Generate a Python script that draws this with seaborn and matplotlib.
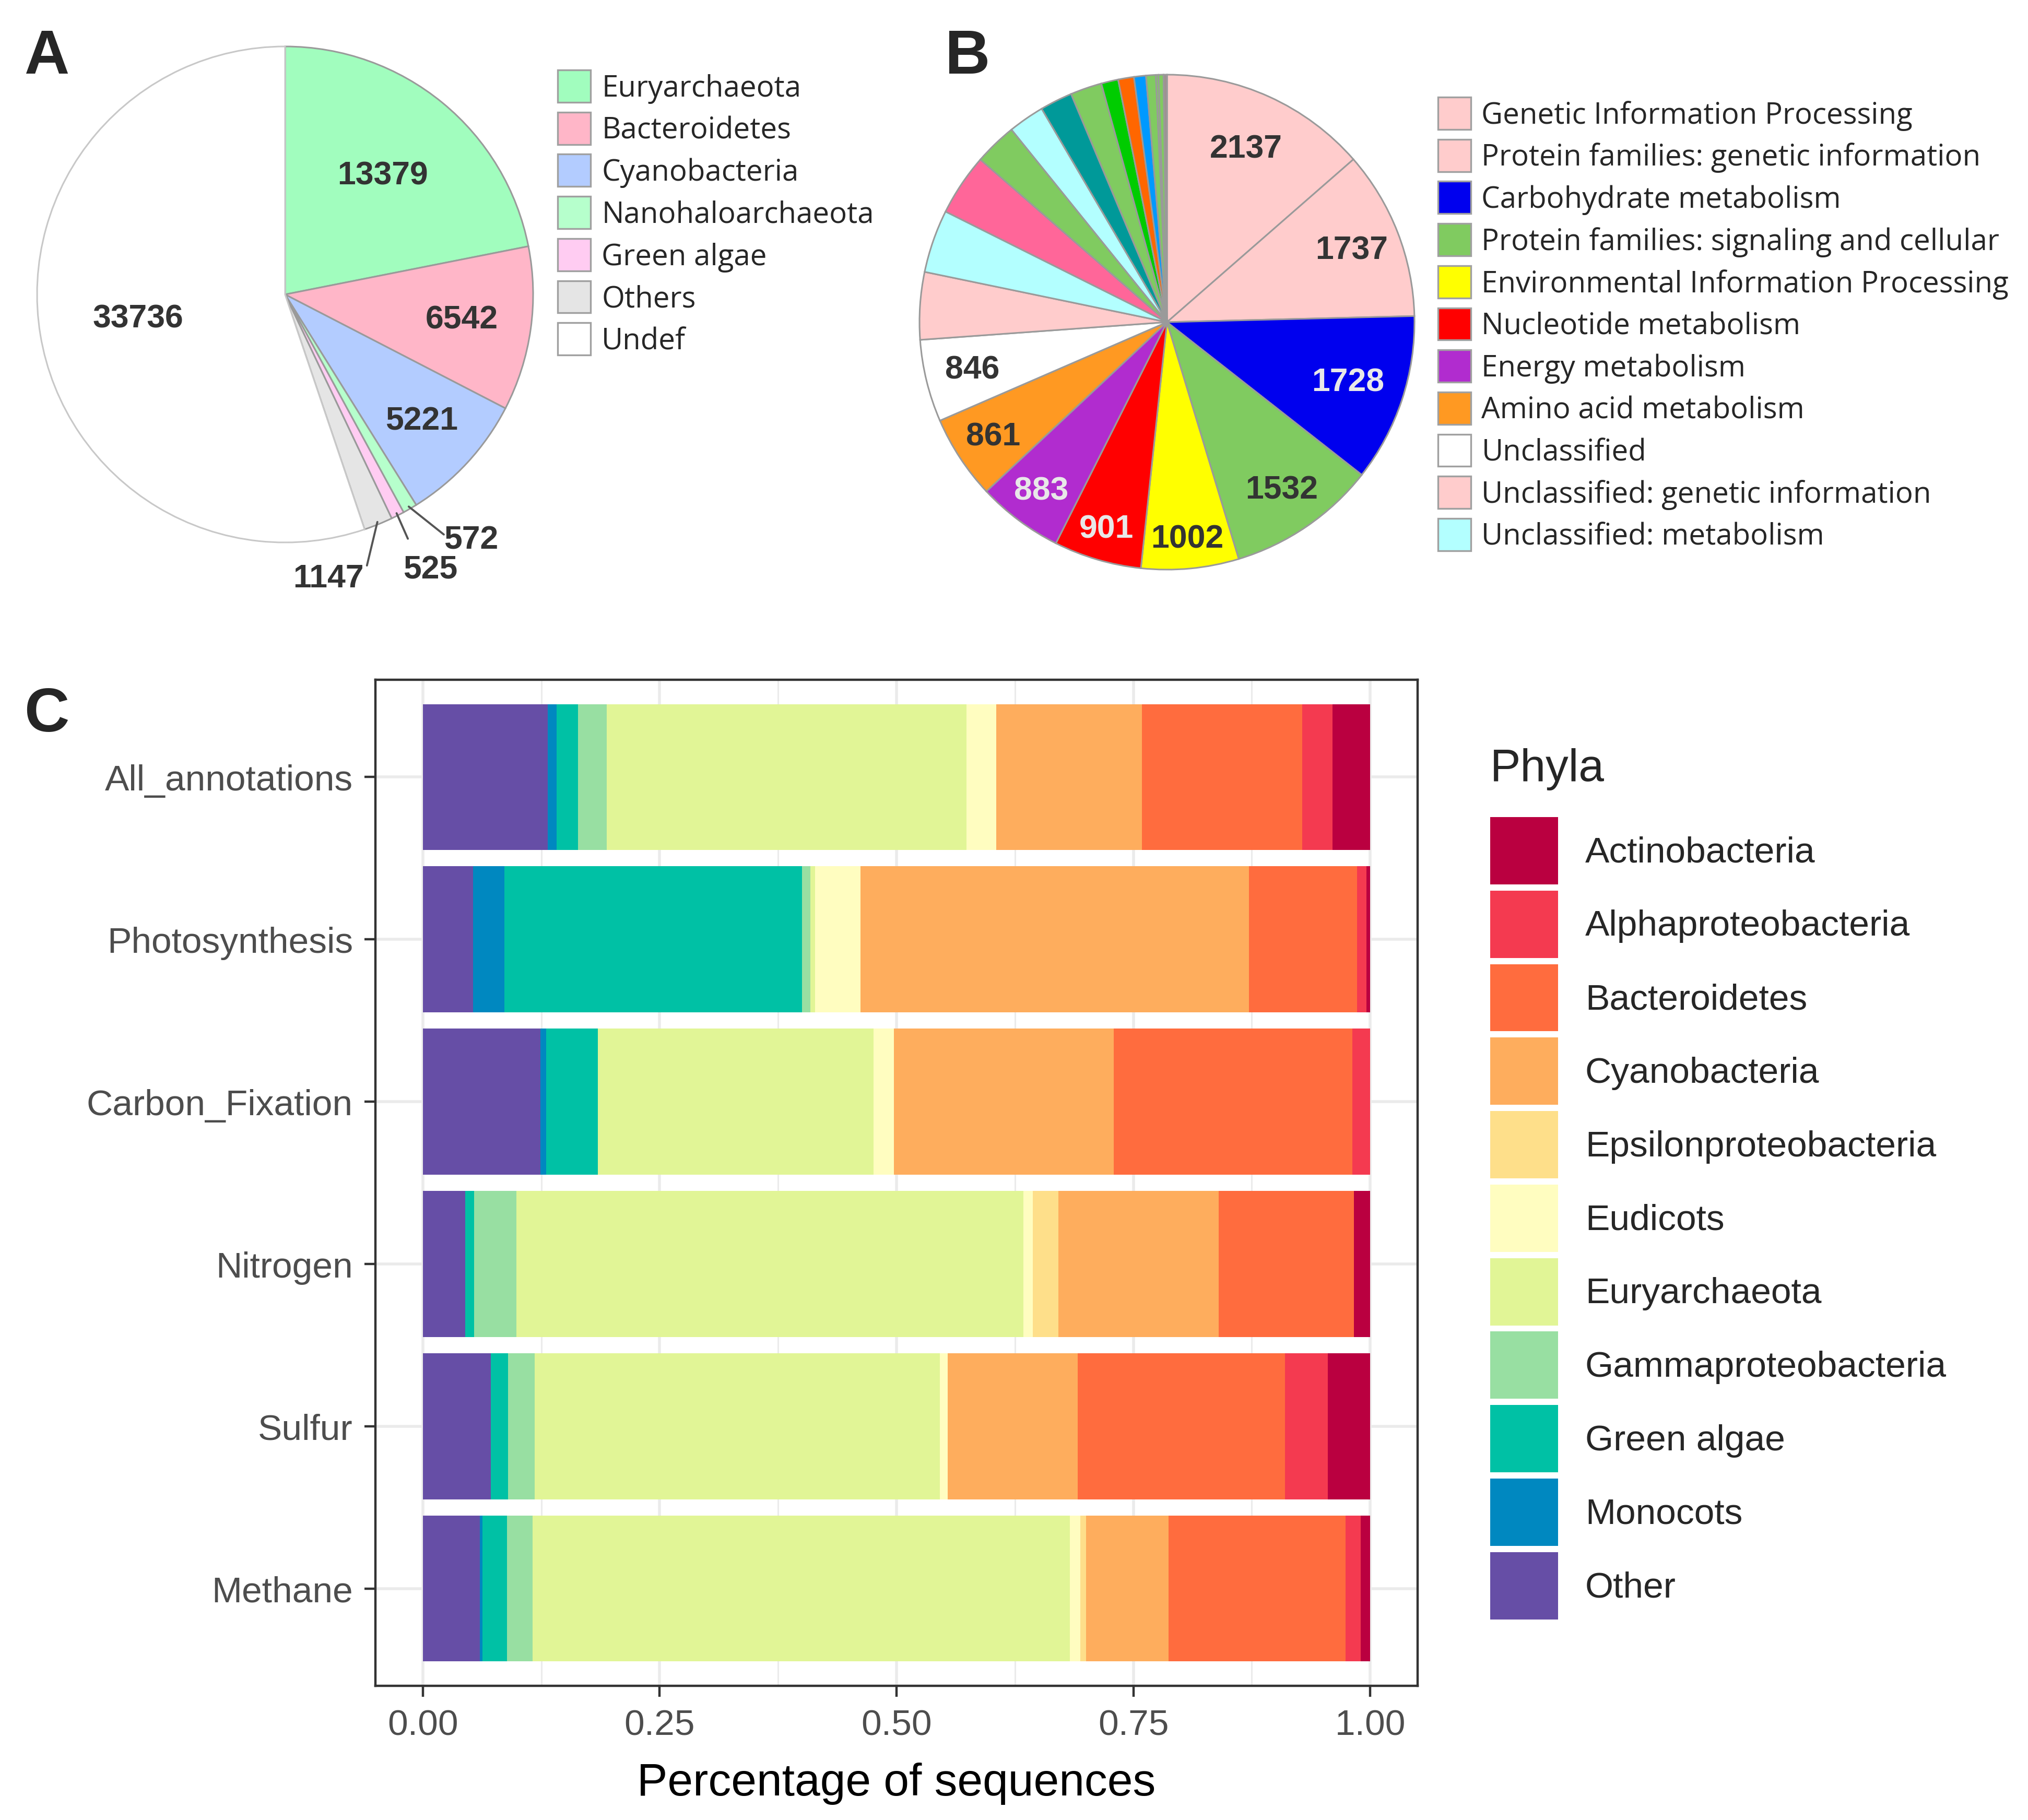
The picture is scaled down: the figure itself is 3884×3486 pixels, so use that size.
"""Three-panel figure: taxonomy pie (A), KEGG category pie (B) and
phyla share per metabolic process as stacked horizontal bars (C)."""
import matplotlib

matplotlib.use("Agg")
import matplotlib.pyplot as plt  # noqa: E402
import numpy as np  # noqa: E402
import pandas as pd  # noqa: E402
import seaborn as sns  # noqa: E402
from matplotlib.patches import Patch  # noqa: E402
from matplotlib.ticker import MultipleLocator, FormatStrFormatter  # noqa: E402

# --------------------------------------------------------------------------- #
# Data                                                                        #
# --------------------------------------------------------------------------- #
# A - taxonomic assignment of all reads
taxa = ["Euryarchaeota", "Bacteroidetes", "Cyanobacteria", "Nanohaloarchaeota",
        "Green algae", "Others", "Undef"]
taxa_counts = [13379, 6542, 5221, 572, 525, 1147, 33736]
taxa_colors = ["#A1FDBE", "#FFB6C8", "#B3CCFF", "#B6FFCC", "#FFCCF2", "#E5E5E5", "#FFFFFF"]

# B - KEGG categories (clockwise from 12 o'clock)
kegg_counts = [2137, 1737, 1728, 1532, 1002, 901, 883, 861, 846,
               692, 648, 635, 438, 372, 333, 324, 175, 162, 123, 100, 26, 52, 35]
kegg_colors = ["#FFCCCC", "#FFCCCC", "#0000EE", "#80CB60", "#FFFF00", "#FF0000",
               "#B12CCF", "#FF9922", "#FFFFFF", "#FFCCCC", "#B3FFFF", "#FF6699",
               "#80CB60", "#B3FFFF", "#009999", "#80CB60", "#00CC00", "#FF6600",
               "#0099FF", "#80CB60", "#80CB60", "#80CB60", "#A09090"]
kegg_legend = ["Genetic Information Processing", "Protein families: genetic information",
               "Carbohydrate metabolism", "Protein families: signaling and cellular",
               "Environmental Information Processing", "Nucleotide metabolism",
               "Energy metabolism", "Amino acid metabolism", "Unclassified",
               "Unclassified: genetic information", "Unclassified: metabolism"]
kegg_legend_colors = ["#FFCCCC", "#FFCCCC", "#0000EE", "#80CB60", "#FFFF00", "#FF0000",
                      "#B12CCF", "#FF9922", "#FFFFFF", "#FFCCCC", "#B3FFFF"]
kegg_labelled = 9  # only the nine largest slices carry a number

# C - share of sequences per phylum for each process
processes = ["All_annotations", "Photosynthesis", "Carbon_Fixation", "Nitrogen", "Sulfur", "Methane"]
phyla = ["Other", "Monocots", "Green algae", "Gammaproteobacteria", "Euryarchaeota", "Eudicots",
         "Epsilonproteobacteria", "Cyanobacteria", "Bacteroidetes", "Alphaproteobacteria",
         "Actinobacteria"]
phyla_colors = ["#664EA6", "#0088C0", "#00C1A5", "#98DFA2", "#E1F596", "#FFFDC0",
                "#FEDF8A", "#FEAD5D", "#FF6C3E", "#F43A50", "#BA0040"]
all_annotations = [0.132, 0.009, 0.023, 0.030, 0.380, 0.031, 0.000, 0.154, 0.169, 0.032, 0.040]
photosynthesis = [0.053, 0.033, 0.314, 0.009, 0.005, 0.048, 0.000, 0.410, 0.114, 0.010, 0.004]
carbon_fixation = [0.124, 0.006, 0.055, 0.000, 0.291, 0.021, 0.000, 0.232, 0.252, 0.019, 0.000]
nitrogen = [0.045, 0.000, 0.009, 0.045, 0.535, 0.010, 0.027, 0.169, 0.143, 0.000, 0.017]
sulfur = [0.072, 0.000, 0.018, 0.028, 0.428, 0.008, 0.000, 0.137, 0.219, 0.045, 0.045]
methane = [0.060, 0.003, 0.026, 0.027, 0.567, 0.011, 0.006, 0.087, 0.187, 0.016, 0.010]

# --------------------------------------------------------------------------- #
# Style                                                                       #
# --------------------------------------------------------------------------- #
sns.set_theme(style="white")
plt.rcParams["font.family"] = ["Liberation Sans", "DejaVu Sans"]

W, H, DPI = 3884, 3487, 200
NUM = dict(fontsize=22.5, fontweight="bold", color="#333333", ha="center", va="center")
LEG = {"family": ["Open Sans", "DejaVu Sans"], "size": 20.3}

# label placement (radius of inside labels, in pie radii)
taxa_label_r = {"Euryarchaeota": 0.62, "Bacteroidetes": 0.72, "Cyanobacteria": 0.75, "Undef": 0.60}
taxa_outside = {"Nanohaloarchaeota": ((0.75, -0.99), (0.64, -0.968)),
                "Green algae": ((0.585, -1.11), (0.495, -0.985)),
                "Others": ((0.175, -1.145), (0.33, -1.093))}
kegg_label_r = [0.77, 0.80, 0.77, 0.82, 0.88, 0.87, 0.85, 0.84, 0.81]
kegg_label_color = ["#333333", "#333333", "#E8E8E8", "#333333", "#333333",
                    "#E8E8E8", "#E8E8E8", "#333333", "#333333"]


def fx(px):
    return px / W


def fy(py):
    return 1 - py / H


def mid_xy(wedge, r):
    a = np.deg2rad((wedge.theta1 + wedge.theta2) / 2)
    return r * np.cos(a), r * np.sin(a)


fig = plt.figure(figsize=(W / DPI, H / DPI), dpi=DPI)

# --------------------------------------------------------------------------- #
# A                                                                           #
# --------------------------------------------------------------------------- #
axA = fig.add_axes([fx(71), fy(1040), fx(950), 950 / H])
wedges, _ = axA.pie(taxa_counts, colors=taxa_colors, startangle=90, counterclock=False,
                    wedgeprops=dict(edgecolor="#9A9A9A", linewidth=1.1))
wedges[-1].set_edgecolor("#C8C8C8")
axA.set_xlim(-1, 1)
axA.set_ylim(-1, 1)
for w, name, n in zip(wedges, taxa, taxa_counts):
    if name in taxa_label_r:
        axA.text(*mid_xy(w, taxa_label_r[name]), f"{n}", **NUM)
    elif name in taxa_outside:
        (tx, ty), (ex, ey) = taxa_outside[name]
        sx, sy = mid_xy(w, 0.99)
        axA.plot([sx, ex], [sy, ey], color="#555555", lw=1.4, clip_on=False)
        axA.text(tx, ty, f"{n}", clip_on=False, **NUM)

fig.legend(handles=[Patch(facecolor=c, edgecolor="#A0A0A0", lw=1.2) for c in taxa_colors],
           labels=taxa, loc="upper left", bbox_to_anchor=(fx(1068), fy(135)),
           frameon=False, prop=LEG, handlelength=1.12, handleheight=1.31,
           labelspacing=0.30, handletextpad=0.37, borderpad=0, borderaxespad=0)

# --------------------------------------------------------------------------- #
# B                                                                           #
# --------------------------------------------------------------------------- #
axB = fig.add_axes([fx(1761), fy(1092), fx(948), 948 / H])
wedgesB, _ = axB.pie(kegg_counts, colors=kegg_colors, startangle=90, counterclock=False,
                     wedgeprops=dict(edgecolor="#9A9A9A", linewidth=1.1))
axB.set_xlim(-1, 1)
axB.set_ylim(-1, 1)
for w, n, r, c in zip(wedgesB[:kegg_labelled], kegg_counts, kegg_label_r, kegg_label_color):
    axB.text(*mid_xy(w, r), f"{n}", **{**NUM, "color": c})

fig.legend(handles=[Patch(facecolor=c, edgecolor="#A0A0A0", lw=1.2) for c in kegg_legend_colors],
           labels=kegg_legend, loc="upper left", bbox_to_anchor=(fx(2754), fy(187)),
           frameon=False, prop=LEG, handlelength=1.12, handleheight=1.31,
           labelspacing=0.30, handletextpad=0.36, borderpad=0, borderaxespad=0)

# --------------------------------------------------------------------------- #
# C                                                                           #
# --------------------------------------------------------------------------- #
shares = pd.DataFrame([all_annotations, photosynthesis, carbon_fixation, nitrogen, sulfur, methane],
                      index=processes, columns=phyla)
cum = shares.cumsum(axis=1)

axC = fig.add_axes([fx(719), fy(3230), fx(1996), 1927 / H])
for i in reversed(range(len(phyla))):
    d = pd.DataFrame({"process": processes, "x": cum[phyla[i]].values})
    sns.barplot(data=d, x="x", y="process", order=processes, orient="h",
                color=phyla_colors[i], saturation=1, width=0.9, errorbar=None,
                linewidth=0, ax=axC)

axC.set_xlim(-0.05, 1.05)
axC.set_ylim(5.6, -0.6)
axC.xaxis.set_major_locator(MultipleLocator(0.25))
axC.xaxis.set_minor_locator(MultipleLocator(0.125))
axC.xaxis.set_major_formatter(FormatStrFormatter("%.2f"))
axC.set_axisbelow(True)
axC.grid(which="major", color="#EBEBEB", lw=2.0)
axC.grid(which="minor", axis="x", color="#EBEBEB", lw=1.1)
for s in axC.spines.values():
    s.set_visible(True)
    s.set_color("#333333")
    s.set_linewidth(1.6)
axC.tick_params(which="major", length=7.5, width=1.6, color="#333333",
                labelsize=25, labelcolor="#4D4D4D", pad=8, bottom=True, left=True)
axC.tick_params(which="minor", length=0)
axC.set_ylabel("")
axC.set_xlabel("Percentage of sequences", fontsize=31.5, color="black", labelpad=14)

fig.legend(handles=[Patch(facecolor=c, edgecolor="none") for c in phyla_colors[::-1]],
           labels=phyla[::-1], loc="upper left", bbox_to_anchor=(fx(2854), fy(1566)),
           frameon=False, fontsize=25, handlelength=1.87, handleheight=2.48,
           labelspacing=0.17, handletextpad=0.75, borderpad=0, borderaxespad=0)
fig.text(fx(2854), fy(1474), "Phyla", fontsize=31.5, ha="left", va="center")

# panel letters
for letter, (px, py) in {"A": (89, 141), "B": (1853, 141), "C": (89, 1401)}.items():
    fig.text(fx(px), fy(py), letter, fontsize=43, fontweight="bold", ha="center", va="baseline")

fig.savefig("out.png", dpi=DPI)
